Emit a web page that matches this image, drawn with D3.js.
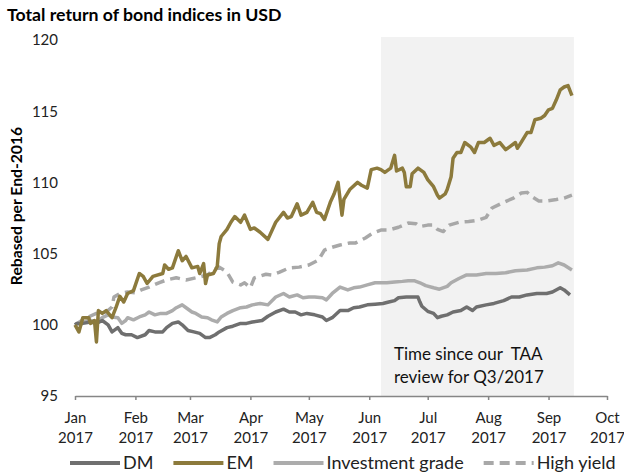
<!DOCTYPE html>
<html>
<head>
<meta charset="utf-8">
<script src="https://cdn.jsdelivr.net/npm/d3@7"></script>
<style>
  body { margin: 0; background: #fff; }
  svg { font-family: Lato, "Open Sans", sans-serif; }
</style>
</head>
<body>
<div id="chart-area"></div>
<script>
// Values (index, rebased to 100 at end-2016)
const dm = [
  ["2017-01-01",100.0],["2017-01-02",100.1],["2017-01-05",100.1],["2017-01-09",100.2],["2017-01-12",100.1],
  ["2017-01-15",100.3],["2017-01-18",100.0],["2017-01-20",99.5],["2017-01-23",99.8],["2017-01-25",99.4],
  ["2017-01-27",99.3],["2017-01-30",99.3],["2017-02-02",99.1],["2017-02-06",99.3],["2017-02-08",99.6],
  ["2017-02-11",99.5],["2017-02-15",99.5],["2017-02-17",99.8],["2017-02-20",100.1],["2017-02-23",100.2],
  ["2017-02-25",100.0],["2017-02-28",99.6],["2017-03-03",99.5],["2017-03-06",99.4],["2017-03-09",99.1],
  ["2017-03-11",99.1],["2017-03-14",99.3],["2017-03-16",99.5],["2017-03-20",99.8],["2017-03-23",99.9],
  ["2017-03-27",100.1],["2017-03-30",100.1],["2017-04-02",100.2],["2017-04-07",100.3],["2017-04-10",100.6],
  ["2017-04-14",100.9],["2017-04-18",101.1],["2017-04-21",100.9],["2017-04-24",100.9],["2017-04-27",100.7],
  ["2017-04-30",100.8],["2017-05-04",100.7],["2017-05-08",100.55],["2017-05-10",100.3],["2017-05-13",100.5],
  ["2017-05-17",101.0],["2017-05-21",101.0],["2017-05-24",101.2],["2017-05-27",101.25],["2017-05-31",101.4],
  ["2017-06-04",101.45],["2017-06-08",101.5],["2017-06-11",101.6],["2017-06-14",101.7],["2017-06-16",101.9],
  ["2017-06-20",101.95],["2017-06-23",101.95],["2017-06-26",101.95],["2017-06-27",101.6],["2017-06-28",101.3],
  ["2017-07-01",100.95],["2017-07-04",100.8],["2017-07-06",100.5],["2017-07-08",100.6],["2017-07-11",100.7],
  ["2017-07-14",100.9],["2017-07-18",101.0],["2017-07-21",101.25],["2017-07-24",101.0],["2017-07-26",101.25],
  ["2017-07-31",101.4],["2017-08-04",101.5],["2017-08-09",101.7],["2017-08-13",101.95],["2017-08-17",101.95],
  ["2017-08-21",102.1],["2017-08-26",102.2],["2017-08-31",102.2],["2017-09-03",102.3],["2017-09-07",102.6],
  ["2017-09-09",102.45],["2017-09-12",102.1]
];

const em = [
  ["2017-01-01",100.0],["2017-01-03",99.5],["2017-01-05",100.5],["2017-01-08",100.5],["2017-01-09",100.1],
  ["2017-01-11",100.3],["2017-01-12",98.8],["2017-01-13",101.0],["2017-01-15",100.8],["2017-01-17",101.0],
  ["2017-01-20",100.5],["2017-01-22",101.2],["2017-01-24",102.0],["2017-01-26",101.6],["2017-01-28",102.2],
  ["2017-01-31",102.4],["2017-02-03",103.6],["2017-02-05",103.4],["2017-02-07",102.9],["2017-02-10",103.4],
  ["2017-02-15",103.6],["2017-02-16",104.2],["2017-02-18",103.9],["2017-02-20",104.0],["2017-02-23",105.2],
  ["2017-02-25",104.5],["2017-02-27",104.8],["2017-03-02",104.0],["2017-03-05",104.1],["2017-03-06",103.6],
  ["2017-03-08",104.3],["2017-03-09",102.9],["2017-03-10",103.5],["2017-03-13",103.6],["2017-03-15",104.1],
  ["2017-03-16",105.7],["2017-03-17",106.2],["2017-03-20",106.7],["2017-03-22",107.2],["2017-03-24",107.6],
  ["2017-03-27",107.2],["2017-03-29",107.7],["2017-04-01",106.7],["2017-04-03",106.8],["2017-04-06",106.5],
  ["2017-04-10",106.0],["2017-04-14",107.2],["2017-04-18",107.9],["2017-04-20",107.5],["2017-04-22",107.6],
  ["2017-04-25",108.5],["2017-04-27",107.7],["2017-04-30",107.9],["2017-05-03",108.6],["2017-05-05",107.9],
  ["2017-05-07",107.8],["2017-05-09",107.4],["2017-05-12",108.6],["2017-05-14",109.2],["2017-05-16",110.0],
  ["2017-05-18",107.7],["2017-05-19",108.8],["2017-05-22",109.5],["2017-05-26",110.0],["2017-05-28",109.8],
  ["2017-05-31",109.6],["2017-06-02",110.9],["2017-06-05",111.0],["2017-06-07",110.9],["2017-06-09",110.7],
  ["2017-06-12",111.0],["2017-06-14",111.9],["2017-06-15",110.8],["2017-06-18",111.0],["2017-06-19",110.7],
  ["2017-06-20",109.7],["2017-06-22",109.7],["2017-06-23",110.6],["2017-06-26",111.0],["2017-06-29",110.7],
  ["2017-07-01",110.2],["2017-07-04",109.7],["2017-07-06",109.1],["2017-07-07",108.9],["2017-07-10",109.2],
  ["2017-07-11",109.5],["2017-07-13",110.4],["2017-07-14",111.7],["2017-07-16",112.1],["2017-07-18",112.1],
  ["2017-07-20",112.8],["2017-07-23",112.5],["2017-07-25",112.1],["2017-07-27",112.8],["2017-07-30",112.8],
  ["2017-08-02",113.1],["2017-08-04",112.6],["2017-08-07",112.8],["2017-08-10",112.3],["2017-08-12",112.5],
  ["2017-08-15",112.8],["2017-08-16",112.4],["2017-08-17",112.6],["2017-08-21",113.5],["2017-08-23",113.5],
  ["2017-08-25",114.4],["2017-08-28",114.5],["2017-08-30",114.7],["2017-09-01",115.1],["2017-09-03",115.2],
  ["2017-09-05",115.8],["2017-09-07",116.5],["2017-09-09",116.7],["2017-09-11",116.8],["2017-09-13",116.1]
];

const ig = [
  ["2017-01-01",100.0],["2017-01-05",100.2],["2017-01-09",100.3],["2017-01-12",100.2],["2017-01-15",100.5],
  ["2017-01-18",100.7],["2017-01-20",100.55],["2017-01-23",100.5],["2017-01-25",100.1],["2017-01-27",100.3],
  ["2017-01-28",100.5],["2017-01-31",100.35],["2017-02-03",100.55],["2017-02-06",100.7],["2017-02-08",100.9],
  ["2017-02-11",100.7],["2017-02-14",100.8],["2017-02-17",100.8],["2017-02-20",101.0],["2017-02-22",101.2],
  ["2017-02-25",101.4],["2017-02-27",101.2],["2017-03-02",100.9],["2017-03-04",100.8],["2017-03-07",100.55],
  ["2017-03-10",100.5],["2017-03-12",100.35],["2017-03-15",100.2],["2017-03-17",100.55],["2017-03-20",100.8],
  ["2017-03-23",101.0],["2017-03-27",101.2],["2017-03-30",101.25],["2017-04-02",101.4],["2017-04-06",101.5],
  ["2017-04-10",101.4],["2017-04-14",101.95],["2017-04-18",102.2],["2017-04-21",101.95],["2017-04-25",102.1],
  ["2017-04-28",101.9],["2017-05-01",101.95],["2017-05-04",101.95],["2017-05-08",101.9],["2017-05-10",101.75],
  ["2017-05-13",102.2],["2017-05-17",102.65],["2017-05-21",102.45],["2017-05-24",102.6],["2017-05-27",102.65],
  ["2017-05-31",102.8],["2017-06-04",102.95],["2017-06-07",102.95],["2017-06-10",102.95],["2017-06-14",103.0],
  ["2017-06-18",103.05],["2017-06-21",103.1],["2017-06-24",103.1],["2017-06-27",102.95],["2017-06-30",102.75],
  ["2017-07-04",102.6],["2017-07-07",102.5],["2017-07-11",102.7],["2017-07-13",102.95],["2017-07-17",103.25],
  ["2017-07-21",103.5],["2017-07-26",103.5],["2017-07-31",103.6],["2017-08-05",103.6],["2017-08-10",103.65],
  ["2017-08-15",103.8],["2017-08-21",103.85],["2017-08-26",104.0],["2017-08-30",104.05],["2017-09-03",104.15],
  ["2017-09-06",104.35],["2017-09-09",104.2],["2017-09-13",103.85]
];

const hy = [
  ["2017-01-01",100.0],["2017-01-07",100.5],["2017-01-12",100.8],["2017-01-17",100.9],["2017-01-20",101.25],
  ["2017-01-21",101.95],["2017-01-24",102.2],["2017-01-28",102.3],["2017-02-01",102.25],["2017-02-04",102.45],
  ["2017-02-08",102.65],["2017-02-13",102.95],["2017-02-17",103.15],["2017-02-22",103.3],["2017-02-27",103.15],
  ["2017-03-04",103.3],["2017-03-10",103.5],["2017-03-13",103.85],["2017-03-16",104.05],["2017-03-20",103.7],
  ["2017-03-23",103.0],["2017-03-27",102.8],["2017-03-29",102.95],["2017-04-01",102.6],["2017-04-03",103.3],
  ["2017-04-09",103.55],["2017-04-12",103.5],["2017-04-16",103.7],["2017-04-21",104.0],["2017-04-26",104.05],
  ["2017-05-01",104.2],["2017-05-06",104.55],["2017-05-09",105.25],["2017-05-13",105.45],["2017-05-17",105.6],
  ["2017-05-22",105.75],["2017-05-25",105.75],["2017-05-30",106.1],["2017-06-03",106.45],["2017-06-07",106.65],
  ["2017-06-11",106.65],["2017-06-16",106.85],["2017-06-21",107.15],["2017-06-25",107.1],["2017-06-27",106.9],
  ["2017-07-01",107.0],["2017-07-04",107.0],["2017-07-06",106.7],["2017-07-09",106.55],["2017-07-12",107.0],
  ["2017-07-17",107.2],["2017-07-22",107.25],["2017-07-27",107.35],["2017-07-31",107.55],["2017-08-03",108.2],
  ["2017-08-09",108.6],["2017-08-14",108.9],["2017-08-18",109.25],["2017-08-21",109.3],["2017-08-24",108.95],
  ["2017-08-27",108.7],["2017-08-31",108.7],["2017-09-05",108.8],["2017-09-09",108.9],["2017-09-13",109.1]
];

const seriesNames = ["DM", "EM", "Investment grade", "High yield"];
const yTicks = [95, 100, 105, 110, 115, 120];
const monthTicks = ["2017-01-01","2017-02-01","2017-03-01","2017-04-01","2017-05-01",
  "2017-06-01","2017-07-01","2017-08-01","2017-09-01","2017-10-01"];
const shadePeriod = ["2017-06-07", "2017-09-14"];
const noteLines = ["Time since our  TAA", "review for Q3/2017"];

const parse = d3.timeParse("%Y-%m-%d");

const W = 624, H = 475;
const margin = {left: 75, right: 17, top: 40, bottom: 79};

const svg = d3.select("#chart-area")
  .append("svg")
    .attr("width", W)
    .attr("height", H);

let x = d3.scaleTime()
  .domain([parse(monthTicks[0]), parse(monthTicks[monthTicks.length - 1])])
  .range([margin.left, W - margin.right]);

let y = d3.scaleLinear()
  .domain([95, 120])
  .range([H - margin.bottom, margin.top]);

// shaded period since the TAA review
let shadeX0 = x(parse(shadePeriod[0]));
svg.append("rect")
  .attr("x", shadeX0)
  .attr("y", y(120) - 3)
  .attr("width", x(parse(shadePeriod[1])) - shadeX0)
  .attr("height", y(95) - y(120) + 3)
  .attr("fill", "#f2f2f2");

svg.append("text")
  .attr("y", 360)
  .attr("font-size", "17px")
  .attr("fill", "#111")
  .style("white-space", "pre")
  .selectAll("tspan")
  .data(noteLines)
  .enter().append("tspan")
    .attr("x", shadeX0 + 13)
    .attr("dy", (d, i) => i ? 23 : 0)
    .text(d => d);

// Y axis (labels only)
let yAxis = d3.axisLeft(y).tickValues(yTicks).tickSize(0).tickPadding(17);
svg.append("g")
  .attr("transform", "translate(" + margin.left + ",0)")
  .call(yAxis)
  .call(g => g.select(".domain").remove())
  .call(g => g.selectAll("text")
    .attr("font-family", "Lato")
    .attr("font-size", "15px")
    .attr("fill", "#222"));

// X axis
let xAxis = d3.axisBottom(x)
  .tickValues(monthTicks.map(parse))
  .tickSize(4)
  .tickSizeOuter(0)
  .tickFormat("");
let xg = svg.append("g")
  .attr("transform", "translate(0," + y(95) + ")")
  .call(xAxis);
xg.select(".domain").attr("stroke", "#868686").attr("stroke-width", 1.5);
xg.selectAll(".tick line").attr("stroke", "#868686").attr("stroke-width", 1.5);
let fmtMonth = d3.timeFormat("%b"), fmtYear = d3.timeFormat("%Y");
xg.selectAll(".tick").append("text")
  .attr("fill", "#222")
  .attr("font-size", "15px")
  .attr("font-family", "Lato")
  .attr("text-anchor", "middle")
  .each(function(d) {
    let t = d3.select(this);
    t.append("tspan").attr("x", 0).attr("y", 27).text(fmtMonth(d));
    t.append("tspan").attr("x", 0).attr("y", 47).text(fmtYear(d));
  });

// Lines
let line = d3.line()
  .x(d => x(parse(d[0])))
  .y(d => y(d[1]));

const styles = [
  {data: dm, color: "#6f6f6f", dash: null},
  {data: em, color: "#8c7a3c", dash: null},
  {data: ig, color: "#acacac", dash: null},
  {data: hy, color: "#a8a8a8", dash: "10,6"}
];

// draw order: high yield, IG, DM, EM on top
[3, 2, 0, 1].forEach(i => {
  svg.append("path")
    .datum(styles[i].data)
    .attr("fill", "none")
    .attr("stroke", styles[i].color)
    .attr("stroke-width", 3.5)
    .attr("stroke-linejoin", "round")
    .attr("stroke-dasharray", styles[i].dash)
    .attr("d", line);
});

// Title
svg.append("text")
  .attr("x", 7)
  .attr("y", 21)
  .attr("font-size", "17.7px")
  .attr("font-weight", "bold")
  .attr("fill", "#000")
  .text("Total return of bond indices in USD");

// Y label
svg.append("text")
  .attr("transform", "rotate(-90)")
  .attr("x", -206)
  .attr("y", 22)
  .attr("text-anchor", "middle")
  .attr("font-size", "15.7px")
  .attr("font-weight", "bold")
  .attr("fill", "#000")
  .text("Rebased per End-2016");

// Legend
let legend = svg.append("g").attr("transform", "translate(0,463)");
let lx = 70;
seriesNames.forEach((name, i) => {
  legend.append("line")
    .attr("x1", lx).attr("x2", lx + 50)
    .attr("y1", 0).attr("y2", 0)
    .attr("stroke", styles[i].color)
    .attr("stroke-width", 4)
    .attr("stroke-dasharray", styles[i].dash);
  let t = legend.append("text")
    .attr("x", lx + 53)
    .attr("y", 6)
    .attr("font-size", "18px")
    .attr("fill", "#222")
    .text(name);
  lx += 53 + t.node().getComputedTextLength() + 20;
});
</script>
</body>
</html>
